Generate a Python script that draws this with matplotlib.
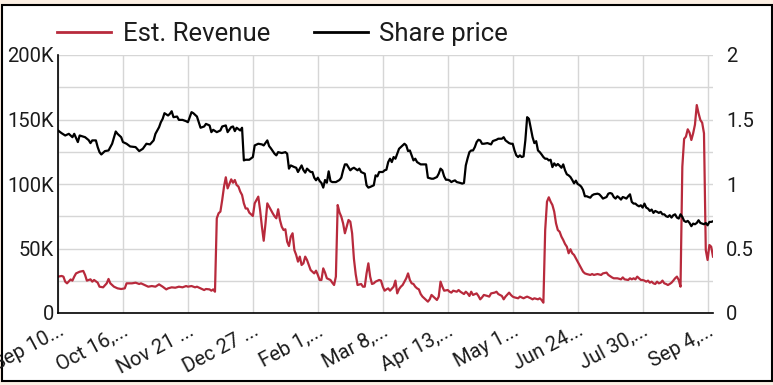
import matplotlib
matplotlib.use("Agg")
import matplotlib.pyplot as plt
from matplotlib.patches import Rectangle
from matplotlib.ticker import FuncFormatter, MultipleLocator

plt.rcParams['font.family'] = ['Roboto', 'DejaVu Sans']

# days counted from Sep 10 (start of the series)
price_days = [0, 2, 4, 6, 8, 9, 11, 12, 15, 17, 18, 19, 21, 22, 23, 24, 26, 28, 30, 32,
              33, 35, 36, 38, 40, 43, 45, 47, 49, 51, 53, 54, 56, 57, 58, 59, 61, 62, 63, 64,
              66, 67, 69, 71, 72, 74, 75, 77, 78, 79, 81, 82, 84, 85, 86, 88, 90, 91, 93, 94,
              96, 97, 98, 99, 101, 102, 103, 104, 106, 108, 109, 111, 113, 114, 116, 117, 118, 120, 121, 122,
              124, 126, 127, 128, 129, 131, 132, 133, 135, 136, 137, 138, 140, 141, 142, 143, 144, 145, 146, 147,
              148, 149, 150, 151, 152, 154, 156, 157, 158, 159, 160, 162, 163, 164, 166, 167, 168, 170, 171, 172,
              173, 175, 176, 177, 178, 180, 181, 182, 183, 184, 185, 186, 187, 188, 189, 190, 191, 192, 193, 194,
              195, 196, 197, 198, 199, 201, 203, 204, 205, 207, 208, 210, 211, 212, 213, 214, 215, 216, 217, 218,
              219, 220, 221, 223, 224, 225, 226, 227, 228, 229, 230, 231, 232, 233, 234, 235, 236, 238, 240, 241,
              242, 243, 244, 246, 247, 248, 250, 251, 252, 253, 254, 255, 256, 257, 258, 259, 260, 261, 262, 263,
              264, 265, 266, 267, 268, 269, 270, 271, 272, 273, 274, 275, 276, 277, 278, 279, 280, 281, 282, 283,
              284, 285, 286, 287, 288, 289, 290, 291, 292, 293, 294, 295, 296, 297, 299, 300, 301, 302, 304, 305,
              306, 307, 308, 309, 310, 311, 312, 313, 314, 315, 316, 317, 318, 319, 320, 321, 322, 323, 324, 325,
              326, 327, 328, 329, 330, 331, 332, 333, 334, 335, 336, 337, 338, 339, 340, 341, 342, 343, 344, 345,
              346, 347, 348, 349, 350, 351, 352, 353, 354, 355, 356, 357, 358, 359, 360, 361, 362, 363]
share_price = [1.415, 1.394, 1.376, 1.389, 1.363, 1.389, 1.325, 1.376, 1.363, 1.340, 1.317, 1.338, 1.338, 1.286, 1.247, 1.229, 1.255, 1.260, 1.312, 1.407,
               1.389, 1.363, 1.325, 1.312, 1.291, 1.286, 1.255, 1.273, 1.312, 1.307, 1.338, 1.389, 1.440, 1.479, 1.505, 1.549, 1.531, 1.544, 1.564, 1.518,
               1.523, 1.497, 1.497, 1.487, 1.479, 1.557, 1.549, 1.523, 1.479, 1.436, 1.446, 1.466, 1.454, 1.402, 1.420, 1.402, 1.415, 1.446, 1.454, 1.402,
               1.441, 1.446, 1.410, 1.436, 1.415, 1.436, 1.183, 1.188, 1.188, 1.209, 1.299, 1.312, 1.307, 1.299, 1.338, 1.294, 1.276, 1.235, 1.222, 1.247,
               1.240, 1.247, 1.235, 1.119, 1.144, 1.131, 1.126, 1.093, 1.144, 1.108, 1.088, 1.119, 1.093, 1.093, 1.049, 1.029, 1.049, 1.023, 1.008, 0.972,
               1.031, 1.010, 1.098, 1.023, 1.015, 1.015, 1.031, 1.049, 1.106, 1.152, 1.152, 1.106, 1.119, 1.126, 1.106, 1.119, 1.093, 1.080, 0.990, 0.972,
               0.977, 0.990, 1.067, 1.059, 1.093, 1.093, 1.106, 1.111, 1.170, 1.196, 1.170, 1.209, 1.196, 1.235, 1.273, 1.286, 1.299, 1.312, 1.299, 1.255,
               1.260, 1.222, 1.183, 1.196, 1.170, 1.152, 1.152, 1.152, 1.049, 1.041, 1.041, 1.054, 1.080, 1.119, 1.106, 1.059, 1.033, 1.033, 1.028, 1.015,
               1.023, 1.028, 1.015, 1.008, 1.003, 1.008, 1.144, 1.199, 1.247, 1.260, 1.260, 1.286, 1.325, 1.343, 1.338, 1.312, 1.312, 1.317, 1.307, 1.333,
               1.338, 1.343, 1.351, 1.351, 1.363, 1.338, 1.317, 1.312, 1.312, 1.260, 1.222, 1.209, 1.222, 1.209, 1.214, 1.338, 1.518, 1.505, 1.436, 1.363,
               1.317, 1.332, 1.260, 1.247, 1.229, 1.209, 1.196, 1.196, 1.183, 1.188, 1.131, 1.160, 1.142, 1.155, 1.142, 1.126, 1.152, 1.106, 1.075, 1.067,
               1.054, 1.031, 1.005, 1.026, 1.000, 0.992, 0.979, 0.954, 0.905, 0.905, 0.899, 0.894, 0.912, 0.920, 0.925, 0.920, 0.905, 0.887, 0.899, 0.925,
               0.930, 0.925, 0.899, 0.887, 0.905, 0.894, 0.879, 0.899, 0.894, 0.887, 0.905, 0.920, 0.861, 0.848, 0.848, 0.835, 0.827, 0.835, 0.817, 0.848,
               0.817, 0.809, 0.791, 0.802, 0.776, 0.791, 0.784, 0.776, 0.784, 0.765, 0.765, 0.750, 0.745, 0.758, 0.740, 0.758, 0.765, 0.740, 0.732, 0.765,
               0.745, 0.714, 0.706, 0.714, 0.698, 0.673, 0.693, 0.688, 0.698, 0.719, 0.698, 0.693, 0.688, 0.698, 0.680, 0.706, 0.706, 0.711]

revenue_days = [0, 2, 3, 4, 5, 7, 8, 9, 10, 12, 14, 15, 16, 18, 19, 20, 22, 23, 25, 27,
                28, 29, 31, 33, 35, 37, 38, 41, 43, 45, 46, 48, 50, 52, 54, 56, 58, 60, 61, 63,
                65, 67, 69, 71, 72, 74, 76, 77, 79, 81, 82, 84, 85, 86, 87, 88, 89, 90, 91, 92,
                93, 94, 95, 96, 97, 98, 99, 100, 101, 102, 103, 104, 105, 106, 108, 109, 110, 111, 112, 113,
                114, 115, 116, 117, 118, 119, 120, 121, 122, 123, 124, 125, 126, 127, 128, 129, 130, 131, 132, 133,
                134, 135, 136, 137, 138, 139, 140, 141, 142, 143, 144, 145, 146, 147, 148, 149, 151, 152, 153, 154,
                155, 156, 157, 158, 159, 160, 161, 162, 163, 164, 165, 166, 168, 169, 170, 171, 172, 173, 174, 175,
                176, 178, 179, 180, 181, 182, 183, 184, 186, 187, 188, 189, 190, 191, 192, 193, 194, 195, 196, 197,
                198, 199, 200, 201, 202, 203, 204, 205, 206, 207, 208, 209, 210, 211, 212, 213, 214, 216, 217, 218,
                219, 221, 222, 223, 225, 226, 227, 228, 229, 230, 232, 233, 234, 235, 236, 238, 239, 240, 242, 243,
                244, 246, 247, 248, 250, 251, 252, 253, 255, 256, 258, 259, 260, 262, 263, 264, 266, 267, 268, 269,
                270, 271, 272, 273, 274, 275, 276, 277, 278, 279, 280, 281, 282, 283, 284, 285, 286, 287, 288, 289,
                290, 291, 292, 293, 295, 296, 297, 299, 301, 302, 304, 305, 306, 307, 308, 310, 312, 313, 314, 316,
                317, 318, 319, 320, 321, 322, 323, 324, 325, 326, 327, 328, 329, 330, 331, 332, 333, 334, 335, 336,
                337, 338, 339, 340, 341, 342, 343, 344, 345, 346, 347, 348, 349, 350, 351, 352, 353, 354, 355, 356,
                357, 358, 359, 360, 361, 362, 363]
revenue = [28.2, 28.7, 28.2, 24.3, 23.0, 26.0, 25.1, 28.2, 30.7, 32.0, 32.6, 29.5, 25.1, 26.1, 24.3, 25.6, 23.5, 20.4, 19.9, 23.0,
           26.4, 23.0, 20.4, 19.1, 18.6, 19.1, 23.0, 23.0, 23.5, 22.5, 23.0, 21.7, 20.4, 20.9, 20.4, 22.2, 20.4, 18.3, 19.1, 19.9,
           19.6, 20.4, 19.9, 20.9, 20.4, 20.9, 19.9, 20.4, 19.1, 17.8, 18.6, 18.3, 17.3, 18.3, 16.5, 73.4, 77.3, 78.6, 87.6, 97.9,
           105.2, 96.6, 100.0, 103.6, 101.0, 103.1, 99.2, 98.0, 94.1, 91.5, 85.0, 81.0, 81.0, 77.8, 75.2, 85.0, 87.6, 90.2, 79.8, 67.0,
           56.0, 69.5, 85.0, 82.4, 79.8, 77.3, 75.0, 73.4, 80.4, 72.1, 66.9, 64.3, 64.9, 55.3, 51.9, 59.2, 61.8, 48.8, 45.0, 39.8,
           43.7, 37.2, 38.5, 43.7, 41.1, 37.2, 33.3, 32.0, 30.7, 32.8, 29.5, 25.6, 25.6, 34.6, 31.3, 26.9, 25.6, 23.5, 21.7, 28.2,
           83.7, 78.0, 74.7, 69.5, 61.8, 66.9, 72.1, 70.8, 61.8, 42.0, 30.0, 21.7, 22.5, 20.4, 20.4, 30.7, 38.5, 28.2, 22.5, 23.0,
           24.3, 25.6, 25.1, 20.4, 17.3, 18.3, 19.1, 17.3, 20.4, 25.1, 15.2, 18.5, 20.4, 21.7, 24.3, 26.9, 30.7, 25.6, 23.0, 22.5,
           20.4, 19.1, 18.3, 14.7, 12.7, 11.4, 10.1, 8.8, 10.6, 14.0, 12.7, 11.4, 10.1, 12.7, 24.3, 20.4, 17.3, 17.8, 16.5, 15.8,
           17.3, 16.5, 17.8, 16.5, 14.7, 16.5, 15.2, 13.2, 16.5, 14.0, 15.2, 13.2, 10.6, 12.1, 14.0, 13.2, 12.7, 15.2, 15.8, 16.5,
           14.7, 13.2, 10.6, 12.7, 15.8, 14.0, 12.7, 12.1, 11.4, 12.7, 11.4, 12.1, 12.7, 11.4, 10.6, 11.4, 10.6, 11.4, 10.1, 8.0,
           64.3, 86.3, 89.7, 86.3, 83.7, 78.6, 69.5, 64.3, 63.0, 59.2, 56.6, 53.5, 51.4, 46.3, 49.4, 46.3, 45.0, 42.4, 39.8, 37.2,
           34.6, 32.0, 30.7, 30.2, 29.5, 30.2, 29.5, 30.2, 29.5, 30.7, 31.3, 29.5, 28.5, 27.6, 26.9, 26.9, 26.1, 27.6, 26.1, 25.6,
           26.9, 26.1, 26.9, 26.1, 28.2, 26.9, 25.6, 25.6, 25.1, 24.3, 25.1, 23.5, 24.3, 23.0, 22.5, 24.3, 23.0, 23.5, 25.1, 23.0,
           22.5, 21.7, 22.5, 23.5, 25.1, 26.9, 28.2, 25.6, 20.4, 113.4, 135.0, 136.7, 142.4, 139.8, 134.1, 139.3, 146.0, 161.2, 154.8, 149.6,
           147.5, 139.3, 48.8, 41.1, 52.7, 51.4, 43.7]

tick_days = [0, 36, 72, 108, 144, 180, 216, 252, 288, 324, 360]
tick_labels = ["Sep 10...", "Oct 16,...", "Nov 21 ...", "Dec 27 ...", "Feb 1,...", "Mar 8,...",
               "Apr 13,...", "May 1...", "Jun 24...", "Jul 30,...", "Sep 4,..."]

red = '#b82a3c'
txt = '#1c1c1c'

fig = plt.figure(figsize=(7.73, 3.85), dpi=100)
fig.patch.set_facecolor('#fcefe3')
fig.add_artist(Rectangle((1.5 / 773, 4.5 / 385), 770 / 773, 376 / 385, transform=fig.transFigure,
                         facecolor='white', edgecolor='black', lw=1.5, zorder=0))

ax = fig.add_axes([58 / 773, 72 / 385, 655 / 773, 258 / 385])
ax.patch.set_visible(False)
ax2 = ax.twinx()

l1, = ax.plot(revenue_days, revenue, color=red, lw=1.6)
l2, = ax2.plot(price_days, share_price, color='black', lw=1.6)

ax.set_xlim(0, 363)
ax.set_ylim(0, 200)
ax2.set_ylim(0, 2)

ax.yaxis.set_major_locator(MultipleLocator(50))
ax.yaxis.set_minor_locator(MultipleLocator(25))
ax.yaxis.set_major_formatter(FuncFormatter(lambda v, p: '0' if v == 0 else f'{v:.0f}K'))
ax2.yaxis.set_major_locator(MultipleLocator(0.5))
ax2.yaxis.set_major_formatter(FuncFormatter(lambda v, p: f'{v:g}'))

ax.set_xticks(tick_days)
ax.set_xticklabels(tick_labels, rotation=28, ha='right', rotation_mode='anchor')

ax.grid(True, which='both', color='#d6d6d6', lw=1)
ax.set_axisbelow(True)
for a in (ax, ax2):
    a.tick_params(which='both', length=0, colors=txt, labelsize=14.5)
    for s in ('top', 'right'):
        a.spines[s].set_visible(False)
ax2.spines['left'].set_visible(False)
ax2.spines['bottom'].set_visible(False)
ax.tick_params(axis='y', pad=3)
ax.tick_params(axis='x', pad=6)
ax2.tick_params(axis='y', pad=9.5)
for s in ('left', 'bottom'):
    ax.spines[s].set_color('black')
    ax.spines[s].set_linewidth(1.2)

fig.legend([l1, l2], ['Est. Revenue', 'Share price'], loc='center left',
           bbox_to_anchor=(57 / 773, 1 - 34 / 385), ncol=2, frameon=False,
           fontsize=18.5, handlelength=2.1, handletextpad=0.45, columnspacing=1.7,
           borderpad=0, borderaxespad=0, labelcolor=txt)
for line in fig.legends[0].get_lines():
    line.set_linewidth(2)

fig.savefig('out.png', dpi=100, facecolor=fig.get_facecolor())
